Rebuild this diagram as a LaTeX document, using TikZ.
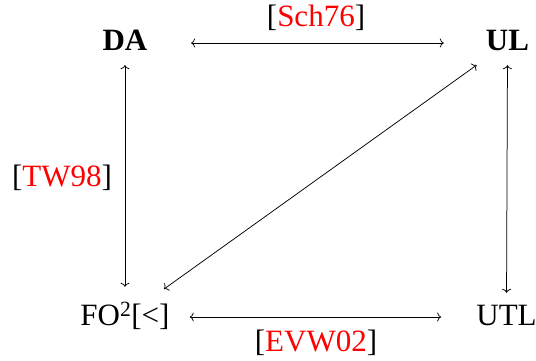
\documentclass[tikz,border=0pt]{standalone}
\usepackage{fontspec}
\setmainfont{Liberation Serif}
\usetikzlibrary{arrows.meta}
\begin{document}
\begin{tikzpicture}[x=1pt,y=1pt,
  topnode/.style={inner sep=0pt, anchor=center, text height=21pt, text depth=5pt, font=\fontsize{31}{34}\selectfont},
  botnode/.style={inner sep=0pt, anchor=center, text height=24pt, text depth=6pt, font=\fontsize{31}{34}\selectfont},
  cite/.style={inner sep=0pt, anchor=base, font=\fontsize{31}{34}\selectfont},
  conn/.style={line width=0.75pt, {To[length=4pt,width=9pt]}-{To[length=4pt,width=9pt]}}]
\useasboundingbox (0,0) rectangle (536,361);
\node[topnode] (DA) at (125,318) {\textbf{DA}};
\node[topnode] (UL) at (507.5,318) {\textbf{UL}};
\node[botnode] (FO) at (125,44) {FO\textsuperscript{2}[<]};
\node[botnode] (UTL) at (506.5,44) {UTL};
\node[cite] (c1) at (316,334) {[\textcolor{red}{Sch76}]};
\node[cite] (c2) at (62,174) {[\textcolor{red}{TW98}]};
\node[cite] (c3) at (316,9) {[\textcolor{red}{EVW02}]};
\draw[conn, shorten <=43.5pt, shorten >=42pt] (DA.east) -- (UL.west);
\draw[conn, shorten <=20pt, shorten >=35pt] (FO.east) -- (UTL.west);
\draw[conn, shorten <=9pt, shorten >=15pt] (DA.south) -- (FO.north);
\draw[conn, shorten <=9pt, shorten >=9pt] (UL.south) -- (UTL.north);
\draw[conn, shorten <=38pt, shorten >=48pt] (UL.center) -- (FO.center);
\end{tikzpicture}
\end{document}
